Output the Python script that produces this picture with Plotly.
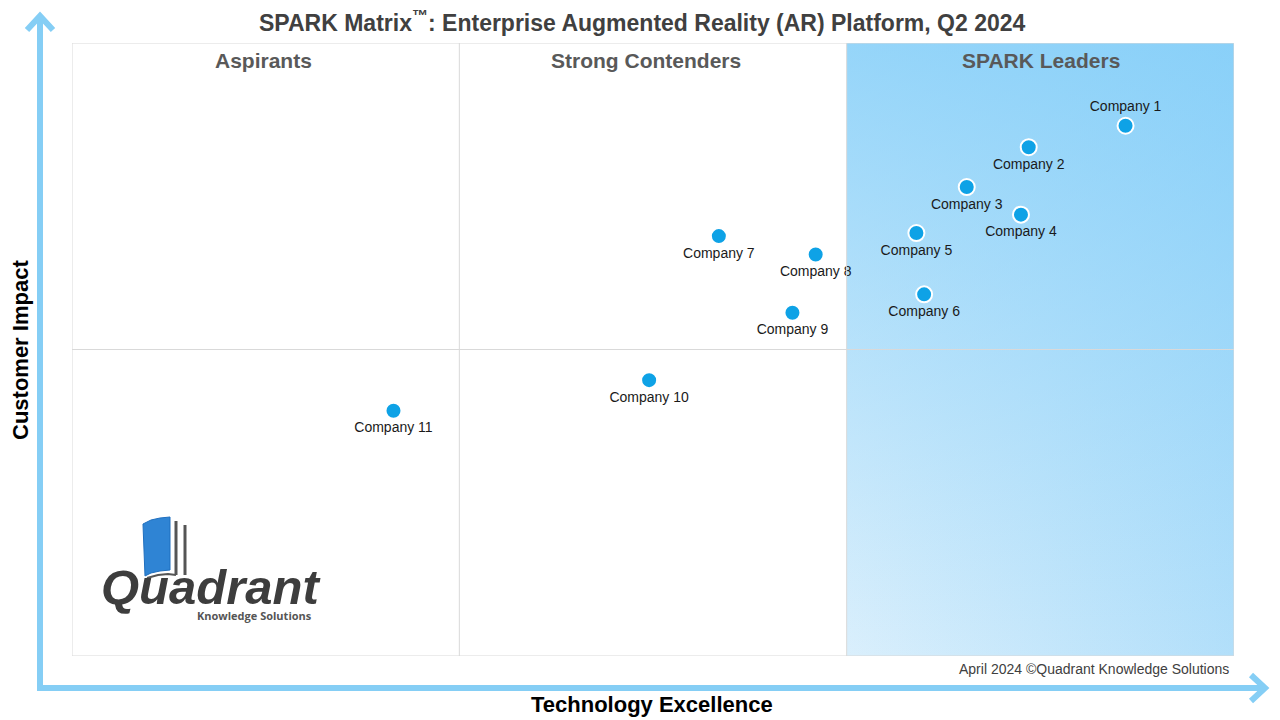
import plotly.graph_objects as go

# SPARK Matrix - Enterprise AR Platform, Q2 2024
companies = ["Company 1", "Company 2", "Company 3", "Company 4", "Company 5", "Company 6",
             "Company 7", "Company 8", "Company 9", "Company 10", "Company 11"]
tech_excellence = [2.72, 2.47, 2.31, 2.45, 2.18, 2.20, 1.67, 1.92, 1.86, 1.49, 0.83]
customer_impact = [1.73, 1.66, 1.53, 1.44, 1.38, 1.18, 1.37, 1.31, 1.12, 0.90, 0.80]
label_pos = ["top center"] + ["bottom center"] * 10

quadrants = ["Aspirants", "Strong Contenders", "SPARK Leaders"]
x_split = [1, 2]
y_split = 1
x_max, y_max = 3, 2

FONT = "Liberation Sans, Arial, sans-serif"
ARROW = "#85cef5"
GRID = "#d9d9d9"

# page puts the figure 8px in from the corner, so shift everything by that
OFF = 8
W, H = 1280 - OFF, 720 - OFF
# plot area in screen pixels
L, R, T, B = 72, 1234, 43, 656
def px(x):
    return (x - L) / (R - L)
def py(y):
    return (B - y) / (B - T)
def path(pts, close=False):
    s = "M " + " L ".join(f"{px(a):.5f},{py(b):.5f}" for a, b in pts)
    return s + (" Z" if close else "")

fig = go.Figure()

# leaders quadrant gradient background
box_x = [x_split[1], x_max, x_max, x_split[1], x_split[1]]
box_y = [0, 0, y_max, y_max, 0]
fig.add_trace(go.Scatter(
    x=box_x, y=box_y, mode="lines", line=dict(width=0), fill="toself",
    hoverinfo="skip", showlegend=False,
    fillgradient=dict(type="horizontal", colorscale=[[0, "#daeffc"], [1, "#b2dffa"]])))
fig.add_trace(go.Scatter(
    x=box_x, y=box_y, mode="lines", line=dict(width=0), fill="toself",
    hoverinfo="skip", showlegend=False,
    fillgradient=dict(type="vertical",
                      colorscale=[[0, "rgba(120,202,248,0)"], [1, "rgba(120,202,248,0.7)"]])))

fig.add_trace(go.Scatter(
    x=tech_excellence, y=customer_impact, mode="markers+text",
    text=companies, textposition=label_pos,
    textfont=dict(family=FONT, size=14, color="#1a1a1a"),
    marker=dict(size=16, color="#0ea2e6", line=dict(color="white", width=2)),
    hoverinfo="text", showlegend=False, cliponaxis=False))

shapes = [
    dict(type="rect", xref="x", yref="y", x0=0, x1=x_max, y0=0, y1=y_max,
         line=dict(color=GRID, width=1), layer="above"),
    dict(type="line", xref="x", yref="y", x0=0, x1=x_max, y0=y_split, y1=y_split,
         line=dict(color=GRID, width=1), layer="above"),
]
for xs in x_split:
    shapes.append(dict(type="line", xref="x", yref="y", x0=xs, x1=xs, y0=0, y1=y_max,
                       line=dict(color=GRID, width=1), layer="above"))

# axis arrows
shapes += [
    dict(type="line", xref="paper", yref="paper", x0=px(40), x1=px(40), y0=py(691), y1=py(17),
         line=dict(color=ARROW, width=6)),
    dict(type="path", xref="paper", yref="paper", path=path([(27, 30), (40, 16), (53, 30)]),
         line=dict(color=ARROW, width=6)),
    dict(type="line", xref="paper", yref="paper", x0=px(37), x1=px(1264), y0=py(688), y1=py(688),
         line=dict(color=ARROW, width=6)),
    dict(type="path", xref="paper", yref="paper", path=path([(1251, 675), (1265, 688), (1251, 701)]),
         line=dict(color=ARROW, width=6)),
]

# logo book icon
shapes += [
    dict(type="path", xref="paper", yref="paper",
         path=path([(143, 524), (151, 520), (160, 518), (170, 517), (170, 570),
                    (160, 571), (151, 573), (145, 576)], close=True),
         fillcolor="#2f84d4", line=dict(color="#1f6fbf", width=1)),
    dict(type="line", xref="paper", yref="paper", x0=px(176), x1=px(176), y0=py(521), y1=py(575),
         line=dict(color="#555555", width=3)),
    dict(type="line", xref="paper", yref="paper", x0=px(185), x1=px(185), y0=py(525), y1=py(575),
         line=dict(color="#555555", width=3)),
    dict(type="path", xref="paper", yref="paper",
         path=path([(147, 578), (158, 575), (168, 574), (176, 575)]),
         line=dict(color="#555555", width=2)),
]

annotations = [
    dict(text="<b>SPARK Matrix<sup>™</sup>: Enterprise Augmented Reality (AR) Platform, Q2 2024</b>",
         x=px(642), y=py(21), xref="paper", yref="paper", showarrow=False,
         font=dict(family=FONT, size=23, color="#404040"), xanchor="center", yanchor="middle"),
    dict(text="<b>Technology Excellence</b>", x=px(652), y=py(704), xref="paper", yref="paper",
         showarrow=False, font=dict(family=FONT, size=22, color="black"),
         xanchor="center", yanchor="middle"),
    dict(text="<b>Customer Impact</b>", x=px(20), y=py(350), xref="paper", yref="paper",
         showarrow=False, textangle=-90, font=dict(family=FONT, size=22, color="black"),
         xanchor="center", yanchor="middle"),
    dict(text="April 2024 ©Quadrant Knowledge Solutions", x=px(1231), y=py(669),
         xref="paper", yref="paper", showarrow=False,
         font=dict(family=FONT, size=14, color="#404040"), xanchor="right", yanchor="middle"),
    dict(text="<b><i>Quadrant</i></b>", x=px(210), y=py(587), xref="paper", yref="paper",
         showarrow=False, font=dict(family=FONT, size=49, color="#3d3d3d"),
         xanchor="center", yanchor="middle"),
    dict(text="<b>Knowledge Solutions</b>", x=px(314), y=py(615), xref="paper", yref="paper",
         showarrow=False, font=dict(family="Open Sans, sans-serif", size=11, color="#555555"),
         xanchor="right", yanchor="middle"),
]
qx = [263, 646, 1041]
for name, cx in zip(quadrants, qx):
    annotations.append(dict(text=f"<b>{name}</b>", x=px(cx), y=py(61), xref="paper", yref="paper",
                            showarrow=False, font=dict(family=FONT, size=21, color="#595959"),
                            xanchor="center", yanchor="middle"))

fig.update_layout(
    width=W, height=H,
    margin=dict(l=L - OFF, r=W - (R - OFF), t=T - OFF, b=H - (B - OFF), pad=0),
    paper_bgcolor="white", plot_bgcolor="white",
    shapes=shapes, annotations=annotations,
    xaxis=dict(range=[0, x_max], showgrid=False, zeroline=False, showticklabels=False,
               fixedrange=True),
    yaxis=dict(range=[0, y_max], showgrid=False, zeroline=False, showticklabels=False,
               fixedrange=True),
)

fig.write_html("out.html")
